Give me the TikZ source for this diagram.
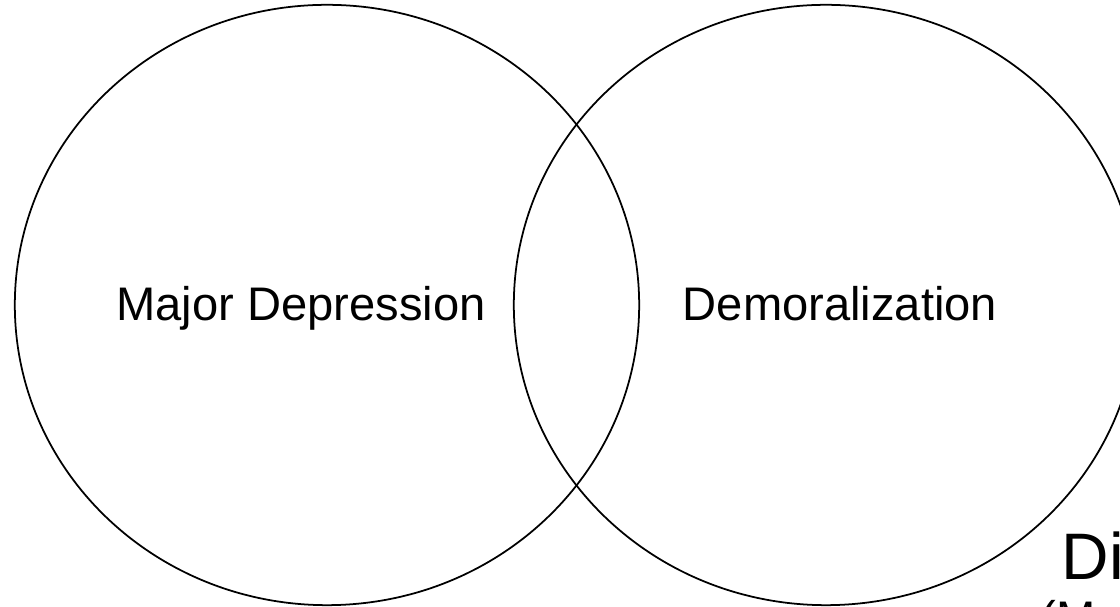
\documentclass[tikz,border=0pt]{standalone}
\usepackage{fontspec}
\setmainfont{Liberation Sans}
\usetikzlibrary{shapes.geometric}

\begin{document}
\begin{tikzpicture}[
        %We set the units to pixels of the page and define some styles
        x=0.01cm, y=-0.01cm,
        set/.style={draw, ellipse, line width=0.5pt, inner sep=0pt,
            minimum width=6.24cm, minimum height=6cm},
        set label/.style={font=\fontsize{13.4}{16}\selectfont, inner sep=0pt},
        heading/.style={font=\fontsize{18.7}{22}\selectfont, inner sep=0pt},
        every node/.style={color=black,}
]
\useasboundingbox (0,0) rectangle (1120,607);
\clip (0,0) rectangle (1120,607);
% Important coordinates are defined
    \coordinate (c1) at (327,305);
    \coordinate (c2) at (826,305);

    % the two sets
    \node[set] (depression) at (c1) {};
    \node[set] (demoralization) at (c2) {};
    % their labels
    \node[set label, anchor=base] (depression label) at (301,321) {Major Depression};
    \node[set label, anchor=base] (demoralization label) at (840,321) {Demoralization};
    % the title in the corner, cut by the page
    \node[heading, anchor=base west] (title) at (1061,580) {Di};
    \node[set label, anchor=base west] (subtitle) at (1040,635) {(Maj};
\end{tikzpicture}
\end{document}
